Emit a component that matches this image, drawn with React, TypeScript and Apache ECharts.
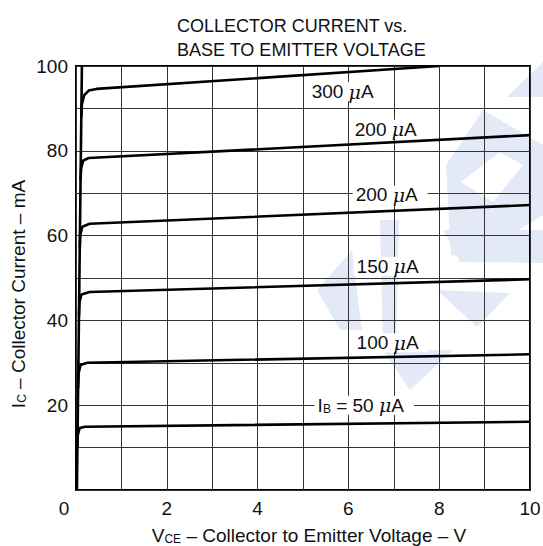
import React, { useEffect, useRef } from 'react';
import * as echarts from 'echarts';

// I-V curves (VCE in volts, IC in mA)
const steepLine: number[][] = [[0.02, 0], [0.13, 100]];
const ib300: number[][] = [[0.117, 88], [0.13, 91], [0.18, 93.1], [0.28, 94.2], [0.45, 94.6], [8, 100]];
const ib200a: number[][] = [[0.1, 73], [0.115, 76], [0.16, 77.7], [0.28, 78.3], [10, 83.7]];
const ib200b: number[][] = [[0.083, 57], [0.095, 60.3], [0.14, 62.1], [0.3, 62.8], [10, 67.2]];
const ib150: number[][] = [[0.065, 41], [0.077, 44.3], [0.12, 46.1], [0.3, 46.7], [10, 49.7]];
const ib100: number[][] = [[0.046, 24], [0.057, 27.5], [0.1, 29.5], [0.25, 30], [10, 32]];
const ib50: number[][] = [[0.031, 10], [0.04, 13], [0.08, 14.6], [0.2, 14.9], [10, 16.1]];

const curves = [ib300, ib200a, ib200b, ib150, ib100, ib50];

// Curve annotations: [VCE, IC, rich text]
const curveLabels: [number, number, string][] = [
  [5.95, 93.9, '300 {mu|μ}A'],
  [6.9, 85.1, '200 {mu|μ}A'],
  [6.92, 69.6, '200 {mu|μ}A'],
  [6.94, 52.8, '150 {mu|μ}A'],
  [6.94, 34.7, '100 {mu|μ}A'],
  [6.35, 20.0, 'I{sub|B} = 50 {mu|μ}A'],
];

const titleLines = ['COLLECTOR CURRENT vs.', 'BASE TO EMITTER VOLTAGE'];
const xTitle = 'V{sub|CE} – Collector to Emitter Voltage – V';
const yTitle = 'I{sub|C} – Collector Current – mA';

const FONT = '"Liberation Sans", Arial, Helvetica, sans-serif';

const watermark: number[][][] = [
  [[507, 97], [543, 62], [543, 97]],
  [[483, 110], [543, 145], [543, 215], [473, 258], [451, 255], [446, 165]],
  [[380, 220], [399, 220], [396, 350], [383, 350]],
  [[317, 290], [352, 250], [362, 330], [340, 330]],
  [[383, 350], [453, 350], [410, 390]],
  [[437, 290], [510, 293], [477, 327]],
  [[443, 230], [543, 230], [543, 263], [460, 262]],
];
const watermarkSlot: number[][] = [[461, 182], [493, 202], [523, 165], [500, 152]];

export default function App() {
  const ref = useRef<HTMLDivElement>(null);
  useEffect(() => {
    if (!ref.current) return;
    const chart = echarts.init(ref.current, undefined, { renderer: 'svg' });
    const graphics: any[] = watermark.map((pts) => ({
      type: 'polygon',
      z: -10,
      silent: true,
      shape: { points: pts },
      style: { fill: '#e3e9f6' },
    }));
    graphics.push({
      type: 'polygon',
      z: -9,
      silent: true,
      shape: { points: watermarkSlot },
      style: { fill: '#ffffff' },
    });
    graphics.push({
      type: 'text',
      x: 177,
      y: 14,
      style: {
        text: titleLines.join('\n'),
        font: `18px ${FONT}`,
        fill: '#111',
        lineHeight: 24,
      },
    });
    graphics.push({
      type: 'text',
      x: 309,
      y: 535,
      style: {
        text: xTitle,
        fontSize: 19,
        fontFamily: FONT,
        fill: '#111',
        align: 'center',
        verticalAlign: 'middle',
        rich: { sub: { fontSize: 12, fontFamily: FONT, verticalAlign: 'bottom' } },
      },
    });
    graphics.push({
      type: 'text',
      x: 18,
      y: 294,
      rotation: Math.PI / 2,
      style: {
        text: yTitle,
        fontSize: 19,
        fontFamily: FONT,
        fill: '#111',
        align: 'center',
        verticalAlign: 'middle',
        rich: { sub: { fontSize: 12, fontFamily: FONT, verticalAlign: 'bottom' } },
      },
    });

    const lineSeries = [steepLine, ...curves].map((d) => ({
      type: 'line',
      data: d,
      showSymbol: false,
      symbol: 'none',
      clip: true,
      z: 5,
      lineStyle: { color: '#000', width: 2.6 },
    }));

    chart.setOption({
      animation: false,
      textStyle: { fontFamily: FONT },
      grid: {
        left: 76, right: 13, top: 66, bottom: 56,
        show: true, borderColor: '#000', borderWidth: 2,
        outerBoundsMode: 'none',
      },
      xAxis: {
        type: 'value', min: 0, max: 10, interval: 1,
        axisLine: { show: false },
        axisTick: { show: false },
        splitLine: { show: true, lineStyle: { color: '#333', width: 1 } },
        axisLabel: {
          margin: 9, fontSize: 19, color: '#111', fontFamily: FONT,
          formatter: (v: number) => (v % 2 === 0 ? (v === 0 ? '{z|0}' : String(v)) : ''),
          rich: { z: { fontSize: 19, fontFamily: FONT, color: '#111', padding: [0, 24, 0, 0] } },
        },
      },
      yAxis: {
        type: 'value', min: 0, max: 100, interval: 10,
        axisLine: { show: false },
        axisTick: { show: false },
        splitLine: { show: true, lineStyle: { color: '#333', width: 1 } },
        axisLabel: {
          margin: 8, fontSize: 19, color: '#111', fontFamily: FONT,
          formatter: (v: number) => (v % 20 === 0 && v !== 0 ? String(v) : ''),
        },
      },
      graphic: graphics,
      series: [
        ...lineSeries,
        {
          type: 'scatter',
          symbolSize: 0,
          z: 4,
          silent: true,
          itemStyle: { opacity: 1 },
          data: curveLabels.map((l) => ({ value: [l[0], l[1]], text: l[2] })),
          label: {
            show: true,
            position: 'inside',
            opacity: 1,
            formatter: (p: any) => p.data.text,
            fontSize: 19,
            fontFamily: FONT,
            color: '#111',
            backgroundColor: '#fff',
            padding: [0, 10, 0, 3],
            rich: {
              mu: { fontSize: 19, fontStyle: 'italic', fontFamily: '"DejaVu Serif", serif', color: '#111' },
              sub: { fontSize: 12, fontFamily: FONT, color: '#111', verticalAlign: 'bottom', lineHeight: 18 },
            },
          },
        },
      ],
    } as any);
    return () => chart.dispose();
  }, []);
  return <div ref={ref} style={{ width: 543, height: 546, position: 'absolute', left: 0, top: 0 }} />;
}
